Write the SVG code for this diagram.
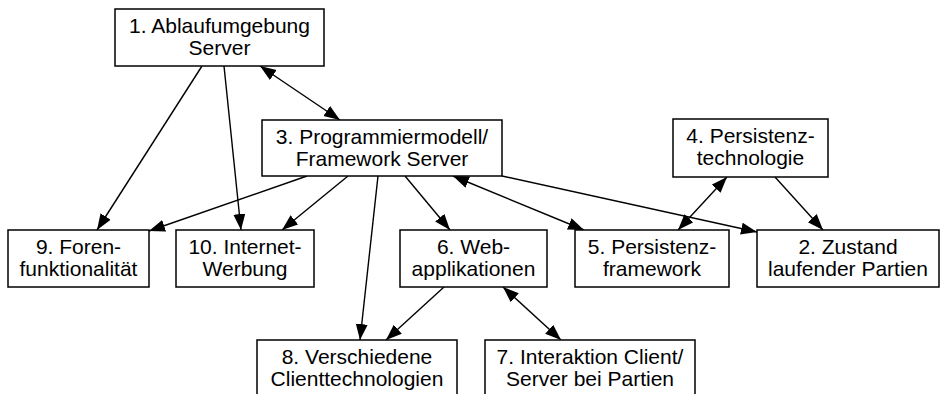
<svg xmlns="http://www.w3.org/2000/svg" width="940" height="394" viewBox="0 0 940 394">
<defs>
<marker id="ah" markerUnits="userSpaceOnUse" markerWidth="17" markerHeight="13" refX="16" refY="6" orient="auto-start-reverse" viewBox="0 0 17 13">
<path d="M0,0 L16,6 L0,12 z" fill="#000"/>
</marker>
<style>
.box{fill:#fff;stroke:#000;stroke-width:1.5}
.t{font-family:"Liberation Sans",Arial,Helvetica,sans-serif;font-size:21px;fill:#000;text-anchor:middle}
.e{stroke:#000;stroke-width:1.4;fill:none}
.s{marker-end:url(#ah)}
.d{marker-start:url(#ah);marker-end:url(#ah)}
</style>
</defs>
<rect width="940" height="394" fill="#fff"/>
<g id="connectors">
<line class="e d" x1="260" y1="66" x2="340" y2="120"/>
<line class="e s" x1="202" y1="66" x2="97" y2="230"/>
<line class="e s" x1="224" y1="66" x2="241" y2="230"/>
<line class="e s" x1="307" y1="176" x2="149" y2="231"/>
<line class="e s" x1="348" y1="176" x2="282" y2="230"/>
<line class="e s" x1="378" y1="176" x2="360" y2="340"/>
<line class="e s" x1="405" y1="176" x2="450" y2="230"/>
<line class="e d" x1="453" y1="176" x2="584" y2="230"/>
<line class="e s" x1="502" y1="176" x2="757" y2="232"/>
<line class="e d" x1="727" y1="177" x2="678" y2="230"/>
<line class="e s" x1="775" y1="177" x2="823" y2="230"/>
<line class="e s" x1="444" y1="287" x2="386" y2="340"/>
<line class="e d" x1="503" y1="287" x2="561" y2="340"/>
</g>
<g id="n1"><rect class="box" x="115" y="9" width="209" height="57"/><text class="t" x="219.5" y="33">1. Ablaufumgebung</text><text class="t" x="219.5" y="55">Server</text></g>
<g id="n3"><rect class="box" x="262" y="120" width="240" height="56"/><text class="t" x="382" y="144">3. Programmiermodell/</text><text class="t" x="382" y="166">Framework Server</text></g>
<g id="n4"><rect class="box" x="673" y="119" width="155" height="58"/><text class="t" x="750.5" y="143">4. Persistenz-</text><text class="t" x="750.5" y="165">technologie</text></g>
<g id="n9"><rect class="box" x="8" y="230" width="141" height="57"/><text class="t" x="78.5" y="254">9. Foren-</text><text class="t" x="78.5" y="276">funktionalität</text></g>
<g id="n10"><rect class="box" x="176" y="230" width="138" height="57"/><text class="t" x="245" y="254">10. Internet-</text><text class="t" x="245" y="276">Werbung</text></g>
<g id="n6"><rect class="box" x="400" y="230" width="147" height="57"/><text class="t" x="473.5" y="254">6. Web-</text><text class="t" x="473.5" y="276">applikationen</text></g>
<g id="n5"><rect class="box" x="575" y="230" width="154" height="57"/><text class="t" x="652" y="254">5. Persistenz-</text><text class="t" x="652" y="276">framework</text></g>
<g id="n2"><rect class="box" x="757" y="230" width="182" height="57"/><text class="t" x="848" y="254">2. Zustand</text><text class="t" x="848" y="276">laufender Partien</text></g>
<g id="n8"><rect class="box" x="257" y="340" width="200" height="60"/><text class="t" x="357" y="364">8. Verschiedene</text><text class="t" x="357" y="386">Clienttechnologien</text></g>
<g id="n7"><rect class="box" x="485" y="340" width="210" height="60"/><text class="t" x="590" y="364">7. Interaktion Client/</text><text class="t" x="590" y="386">Server bei Partien</text></g>
</svg>
